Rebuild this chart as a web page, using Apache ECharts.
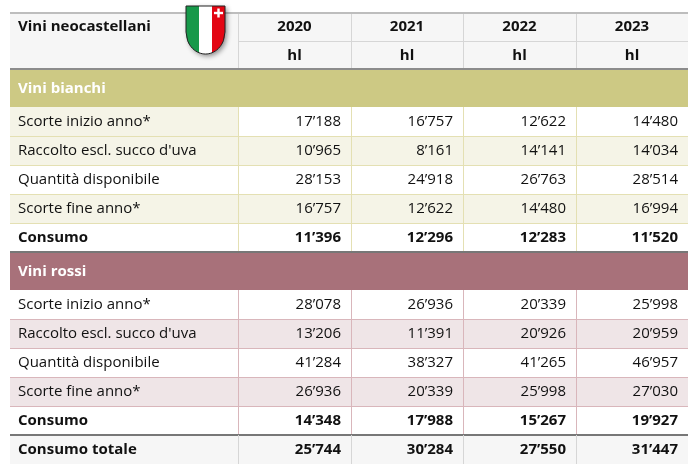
<!DOCTYPE html>
<html><head><meta charset="utf-8">
<script src="https://cdn.jsdelivr.net/npm/echarts@6/dist/echarts.min.js"></script>
<style>html,body{margin:0;padding:0;background:#fff}#c{width:697px;height:464px}</style>
</head><body><div id="c"></div>
<script>
// ---------- DATA ----------
const tableTitle = 'Vini neocastellani';
const years = ['2020', '2021', '2022', '2023'];
const units = ['hl', 'hl', 'hl', 'hl'];
const groupNames = ['Vini bianchi', 'Vini rossi'];
const rowLabels = ['Scorte inizio anno*', "Raccolto escl. succo d'uva", 'Quantità disponibile', 'Scorte fine anno*', 'Consumo'];
const totalLabel = 'Consumo totale';

const whiteStartStock  = [17188, 16757, 12622, 14480];
const whiteHarvest     = [10965, 8161, 14141, 14034];
const whiteAvailable   = [28153, 24918, 26763, 28514];
const whiteEndStock    = [16757, 12622, 14480, 16994];
const whiteConsumption = [11396, 12296, 12283, 11520];

const redStartStock  = [28078, 26936, 20339, 25998];
const redHarvest     = [13206, 11391, 20926, 20959];
const redAvailable   = [41284, 38327, 41265, 46957];
const redEndStock    = [26936, 20339, 25998, 27030];
const redConsumption = [14348, 17988, 15267, 19927];

const totalConsumption = [25744, 30284, 27550, 31447];

// ---------- LAYOUT / STYLE ----------
const FONT = '"Open Sans", sans-serif';
const FS = 15;
const colEdges = [0, 228, 341, 453, 566, 678];
const rowSizes = [29, 28, 38, 29, 29, 29, 29, 29, 38, 29, 29, 29, 29, 29, 29];
const rowEdges = [0];
rowSizes.forEach(h => rowEdges.push(rowEdges[rowEdges.length - 1] + h));

const sections = [
  { rows: [whiteStartStock, whiteHarvest, whiteAvailable, whiteEndStock, whiteConsumption],
    band: '#cdc984', tint: '#f5f4e7', line: '#e4e0b3', firstLabelTint: true },
  { rows: [redStartStock, redHarvest, redAvailable, redEndStock, redConsumption],
    band: '#a8717a', tint: '#efe5e7', line: '#d9b6bb', firstLabelTint: false }
];

const fmt = v => String(v).replace(/\B(?=(\d{3})+(?!\d))/g, '\u2019');

const cells = [];
function addCell(c0, c1, r0, r1, opt) {
  cells.push(Object.assign({ c0, c1, r0, r1, text: '', bg: '#ffffff', color: '#111111', bold: false, align: 'left', lines: [] }, opt));
}

// header
const HDR_BG = '#f6f6f6', HDR_LINE = '#d6d6d6';
addCell(0, 1, 0, 2, { text: tableTitle, bg: HDR_BG, bold: true, textRow: 0,
  lines: [{ side: 'top', color: '#bdbdbd', w: 2 }, { side: 'right', color: HDR_LINE, w: 1 }, { side: 'bottom', color: '#8c8c8c', w: 2 }] });
years.forEach((y, i) => {
  const last = i === years.length - 1;
  addCell(i + 1, i + 2, 0, 1, { text: y, bg: HDR_BG, bold: true, align: 'center',
    lines: [{ side: 'top', color: '#bdbdbd', w: 2 }, { side: 'bottom', color: HDR_LINE, w: 1 }].concat(last ? [] : [{ side: 'right', color: HDR_LINE, w: 1 }]) });
  addCell(i + 1, i + 2, 1, 2, { text: units[i], bg: HDR_BG, bold: true, align: 'center',
    lines: [{ side: 'bottom', color: '#8c8c8c', w: 2 }].concat(last ? [] : [{ side: 'right', color: HDR_LINE, w: 1 }]) });
});

// sections
let r = 2;
sections.forEach((sec, si) => {
  addCell(0, 5, r, r + 1, { text: groupNames[si], bg: sec.band, color: '#ffffff', bold: true });
  r++;
  sec.rows.forEach((vals, k) => {
    const tinted = k === 1 || k === 3;
    const isLast = k === sec.rows.length - 1;
    const bold = isLast;
    const bottom = isLast ? { side: 'bottom', color: '#777777', w: 2 } : { side: 'bottom', color: sec.line, w: 1 };
    addCell(0, 1, r, r + 1, { text: rowLabels[k], bold, bg: (tinted || (k === 0 && sec.firstLabelTint)) ? sec.tint : '#ffffff',
      lines: [bottom, { side: 'right', color: sec.line, w: 1 }] });
    vals.forEach((v, i) => {
      const last = i === vals.length - 1;
      addCell(i + 1, i + 2, r, r + 1, { text: fmt(v), bold, align: 'right', bg: tinted ? sec.tint : '#ffffff',
        lines: [bottom].concat(last ? [] : [{ side: 'right', color: sec.line, w: 1 }]) });
    });
    r++;
  });
});

// total
addCell(0, 1, r, r + 1, { text: totalLabel, bold: true, bg: HDR_BG, lines: [{ side: 'right', color: HDR_LINE, w: 1 }] });
totalConsumption.forEach((v, i) => {
  const last = i === totalConsumption.length - 1;
  addCell(i + 1, i + 2, r, r + 1, { text: fmt(v), bold: true, align: 'right', bg: HDR_BG,
    lines: last ? [] : [{ side: 'right', color: HDR_LINE, w: 1 }] });
});

const cellData = cells.map(c => [colEdges[c.c0], rowEdges[c.r0], colEdges[c.c1], rowEdges[c.r1]]);

function box(api) {
  const p0 = api.coord([api.value(0), api.value(1)]);
  const p1 = api.coord([api.value(2), api.value(3)]);
  const x = Math.round(p0[0]), y = Math.round(p0[1]);
  return { x, y, w: Math.round(p1[0]) - x, h: Math.round(p1[1]) - y };
}

// shield (decoration)
const SW = 39, SSIDE = 26, SRY = 22;
const shieldY = x => SSIDE + SRY * Math.sqrt(Math.max(0, 1 - Math.pow((x - SW / 2) / (SW / 2), 2)));
function shieldPts(xa, xb) {
  const pts = [[xa, 0], [xb, 0]];
  const n = 24;
  for (let i = 0; i <= n; i++) {
    const x = xb - (xb - xa) * i / n;
    pts.push([x, shieldY(x)]);
  }
  return pts;
}

const chart = echarts.init(document.getElementById('c'), null, { renderer: 'canvas' });
chart.setOption({
  animation: false,
  grid: { left: 10, top: 12, width: 678, height: 452 },
  xAxis: { type: 'value', min: 0, max: colEdges[colEdges.length - 1], show: false },
  yAxis: { type: 'value', min: 0, max: rowEdges[rowEdges.length - 1], inverse: true, show: false },
  series: [
    {
      type: 'custom', z: 1, silent: true, clip: false, data: cellData,
      renderItem: (params, api) => {
        const c = cells[params.dataIndex];
        const b = box(api);
        const children = [{ type: 'rect', shape: { x: b.x, y: b.y, width: b.w, height: b.h }, style: { fill: c.bg } }];
        if (c.text) {
          const tx = c.align === 'left' ? b.x + 8 : c.align === 'right' ? b.x + b.w - 10 : b.x + b.w / 2;
          let ty = b.y + b.h / 2;
          if (c.textRow != null) {
            ty = api.coord([0, (rowEdges[c.textRow] + rowEdges[c.textRow + 1]) / 2])[1];
          }
          children.push({ type: 'text', style: { text: c.text, x: tx, y: ty + 0.5, fill: c.color,
            font: (c.bold ? 'bold ' : '') + FS + 'px ' + FONT, align: c.align, verticalAlign: 'middle' } });
        }
        return { type: 'group', children };
      }
    },
    {
      type: 'custom', z: 2, silent: true, clip: false, data: cellData,
      renderItem: (params, api) => {
        const c = cells[params.dataIndex];
        const b = box(api);
        const children = c.lines.map(l => {
          let shape;
          if (l.side === 'right') shape = { x: b.x + b.w, y: b.y, width: l.w, height: b.h };
          else if (l.side === 'bottom') shape = { x: b.x, y: b.y + b.h - Math.floor(l.w / 2), width: b.w, height: l.w };
          else shape = { x: b.x, y: b.y, width: b.w, height: l.w };
          return { type: 'rect', shape, style: { fill: l.color } };
        });
        return { type: 'group', children };
      }
    }
  ],
  graphic: [{
    type: 'group', x: 186, y: 6, z: 100,
    children: [
      { type: 'polygon', z: 100, shape: { points: shieldPts(0, SW) },
        style: { fill: '#ffffff', shadowBlur: 5, shadowColor: 'rgba(0,0,0,0.45)', shadowOffsetX: 2, shadowOffsetY: 2 } },
      { type: 'polygon', z: 101, shape: { points: shieldPts(0, 13) }, style: { fill: '#17994a' } },
      { type: 'polygon', z: 101, shape: { points: shieldPts(26, SW) }, style: { fill: '#e30613' } },
      { type: 'rect', z: 102, shape: { x: 31.3, y: 2.5, width: 2.4, height: 9 }, style: { fill: '#ffffff' } },
      { type: 'rect', z: 102, shape: { x: 28, y: 5.8, width: 9, height: 2.4 }, style: { fill: '#ffffff' } },
      { type: 'polygon', z: 103, shape: { points: shieldPts(0, SW) }, style: { fill: null, stroke: '#222222', lineWidth: 1 } }
    ]
  }]
});
</script>
</body></html>
